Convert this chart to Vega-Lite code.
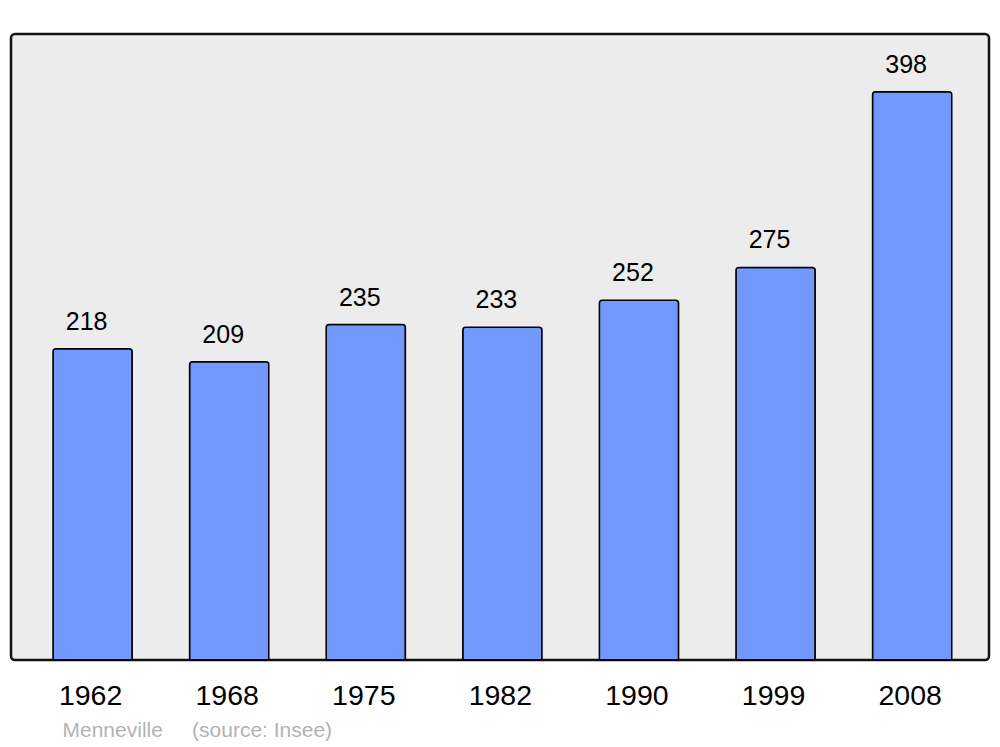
{
  "$schema": "https://vega.github.io/schema/vega-lite/v6.json",
  "width": 978,
  "height": 626,
  "autosize": {"type": "none"},
  "padding": {"left": 11, "top": 34, "right": 11, "bottom": 87},
  "background": "#ffffff",
  "config": {
    "font": "Liberation Sans",
    "view": {"fill": "#ececec", "stroke": "#111111", "strokeWidth": 2.5, "cornerRadius": 4}
  },
  "data": {
    "values": [
      {"year": "1962", "pop": 218},
      {"year": "1968", "pop": 209},
      {"year": "1975", "pop": 235},
      {"year": "1982", "pop": 233},
      {"year": "1990", "pop": 252},
      {"year": "1999", "pop": 275},
      {"year": "2008", "pop": 398}
    ]
  },
  "encoding": {
    "x": {
      "field": "year",
      "type": "nominal",
      "sort": null,
      "scale": {"paddingInner": 0.42, "paddingOuter": 0.29, "align": 0.53},
      "axis": {
        "domain": false,
        "ticks": false,
        "labelAngle": 0,
        "labelFontSize": 28.5,
        "labelColor": "#000000",
        "labelPadding": 21,
        "labelOffset": -2,
        "title": "Menneville\u00a0\u00a0\u00a0\u00a0\u00a0(source: Insee)",
        "titleAnchor": "start",
        "titleX": 51,
        "titleFontSize": 21,
        "titleFontWeight": "normal",
        "titleColor": "#b3b3b3",
        "titlePadding": 10
      }
    },
    "y": {
      "field": "pop",
      "type": "quantitative",
      "scale": {"domain": [0, 438.5], "nice": false},
      "axis": null
    }
  },
  "layer": [
    {
      "mark": {
        "type": "bar",
        "fill": "#7399ff",
        "stroke": "#000000",
        "strokeWidth": 1.5,
        "cornerRadiusTopLeft": 3,
        "cornerRadiusTopRight": 3
      }
    },
    {
      "mark": {
        "type": "text",
        "baseline": "alphabetic",
        "dy": -19,
        "dx": -6,
        "fontSize": 25,
        "color": "#000000"
      },
      "encoding": {"text": {"field": "pop", "type": "quantitative"}}
    }
  ]
}
